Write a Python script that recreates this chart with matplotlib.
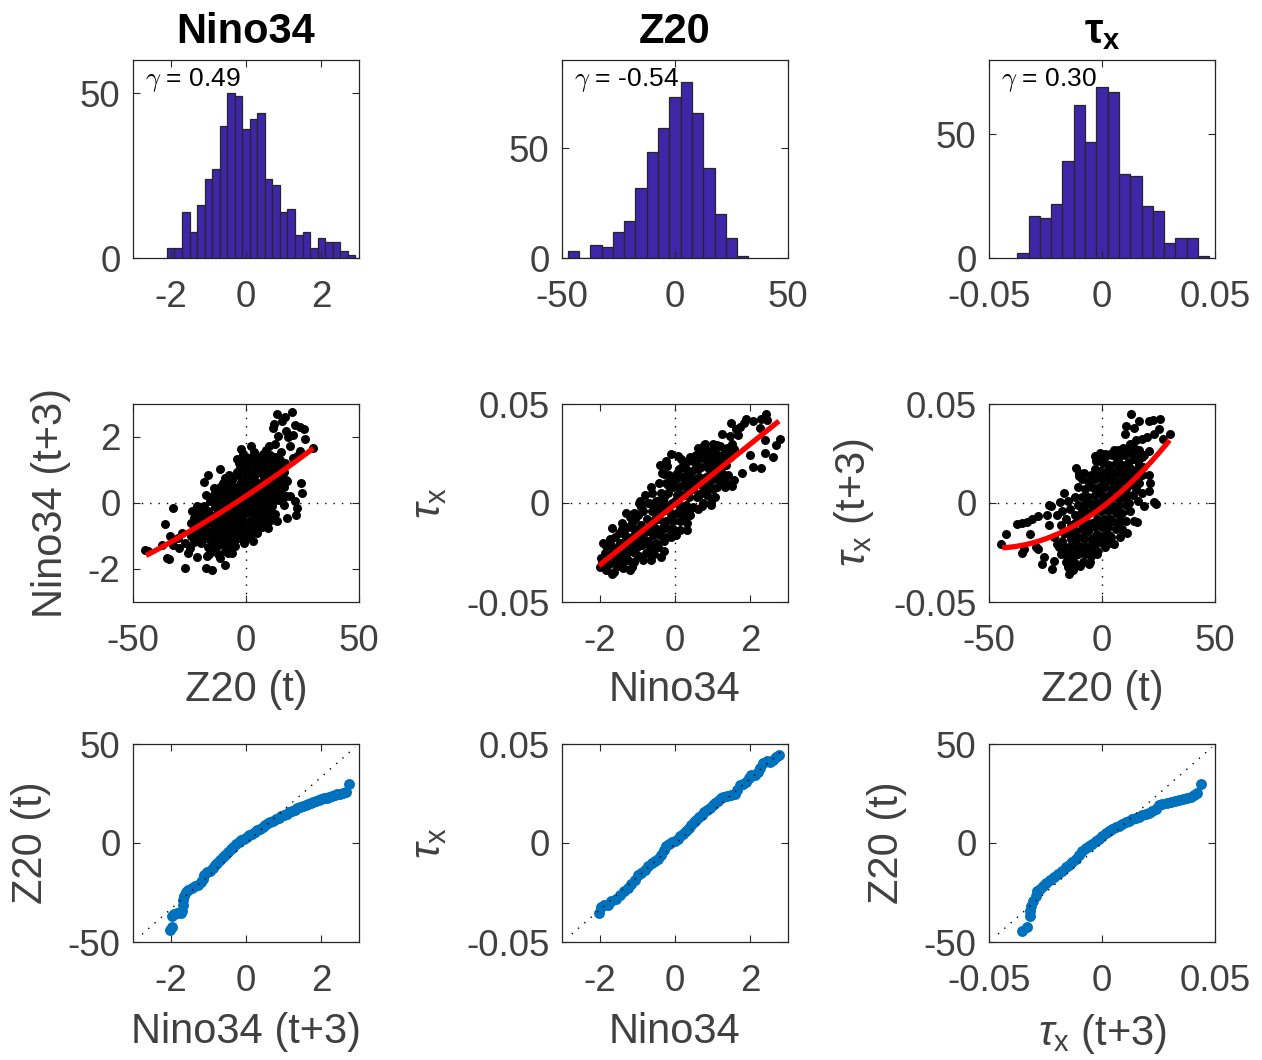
import matplotlib
matplotlib.use('Agg')
import matplotlib.pyplot as plt
import numpy as np

plt.rcParams['font.family'] = ['Liberation Sans', 'DejaVu Sans']
plt.rcParams['axes.unicode_minus'] = False
plt.rcParams['mathtext.fontset'] = 'custom'
plt.rcParams['mathtext.rm'] = 'Liberation Sans'
plt.rcParams['mathtext.it'] = 'Liberation Sans:italic'
plt.rcParams['mathtext.bf'] = 'Liberation Sans:bold'

# ---------------- data ----------------
titles = ['Nino34', 'Z20', r'$\mathbf{\tau}_{\mathbf{x}}$']
skew_labels = ['0.49', '-0.54', '0.30']

nino_centers = [-2.0, -1.8, -1.6, -1.4, -1.2, -1.0, -0.8, -0.6, -0.4, -0.2, 0.0, 0.2, 0.4,
                0.6, 0.8, 1.0, 1.2, 1.4, 1.6, 1.8, 2.0, 2.2, 2.4, 2.6, 2.8]
nino_counts = [3, 3, 14, 8, 16, 24, 27, 40, 50, 49, 39, 42, 44,
               24, 22, 14, 15, 7, 8, 3, 6, 5, 5, 2, 1]
z20_centers = [-45, -40, -35, -30, -25, -20, -15, -10, -5, 0, 5, 10, 15, 20, 25, 30]
z20_counts = [3, 0, 6, 5, 12, 17, 32, 48, 59, 73, 80, 66, 41, 20, 9, 1]
tau_centers = [-0.035, -0.030, -0.025, -0.020, -0.015, -0.010, -0.005, 0.000, 0.005,
               0.010, 0.015, 0.020, 0.025, 0.030, 0.035, 0.040, 0.045]
tau_counts = [2, 17, 16, 22, 39, 62, 47, 69, 67, 34, 33, 21, 19, 6, 8, 8, 1]

# scatter 1: Z20(t) vs Nino34(t+3)
sc1_pts = [
    (13.6, 2.70), (20.2, 2.77), (17.3, 2.60), (15.8, 2.50), (21.7, 2.37), (12.4, 2.40),
    (12.1, 2.26), (17.7, 2.19), (20.9, 2.06), (23.9, 2.29), (25.7, 2.24), (26.1, 1.94),
    (18.7, 1.99), (14.3, 2.02), (12.8, 1.79), (10.3, 1.72), (15.3, 1.55), (19.5, 1.74),
    (23.9, 1.58), (29.8, 1.66), (-2.2, 1.63), (2.1, 1.74), (3.5, 1.55), (-3.8, 1.33),
    (0.0, 1.38), (-11.5, 1.03), (-16.7, 0.85), (-18.6, 0.65), (-32.2, -0.16), (-35.8, -0.65),
    (-44.7, -1.41), (-43.2, -1.46), (-35.1, -1.66), (-33.9, -1.69), (-27.0, -1.97),
    (-17.7, -1.97), (-15.2, -2.02), (-9.3, -1.87), (-11.5, -1.66), (-17.1, -1.61),
    (-21.5, -1.63), (-25.5, -1.51), (-28.5, -0.92), (-29.5, -1.36), (-33.6, -1.01),
    (-37.3, -1.26), (24.2, 0.60), (24.6, 0.31), (21.7, 0.06), (22.4, -0.14), (22.1, -0.37),
    (19.5, 0.21), (18.0, 0.67), (20.9, 1.35), (22.4, 1.43), (-21.8, -0.85), (-24.0, -0.60),
    (-27.0, -1.21), (-24.8, -1.36), (-32.2, -1.26), (-29.9, -1.06), (-7.8, -1.51),
    (-4.9, -1.31), (4.7, -0.90), (9.1, -0.65), (13.6, -0.55), (18.0, -0.45),
    (-24.0, -0.25), (-21.0, -0.30), (-23.0, -0.45), (-19.8, -0.50), (-24.5, -0.62),
    (-21.5, -0.68), (-22.8, -0.85), (-19.5, -0.88), (-24.2, -1.00), (-21.2, -1.05),
    (-23.0, -1.18), (-20.0, -1.22),
    (-17.5, 0.25), (-14.5, 0.20), (-12.5, 0.05), (-16.0, 0.05), (-18.5, -0.10), (-13.8, -0.12),
    (-16.8, -0.25), (-12.2, -0.25), (-15.0, -0.38), (-18.2, -0.42), (-13.0, -0.50),
    (-16.5, -0.58), (-14.2, -0.70), (-18.0, -0.75), (-12.0, -0.78), (-15.8, -0.88),
    (-13.5, -0.98), (-17.8, -1.05), (-11.8, -1.10), (-15.2, -1.15), (-13.0, -1.30),
    (-17.0, -1.32), (-15.0, -1.45), (-12.5, -1.55), (-16.5, -1.55),
    (-10.0, 0.60), (-7.0, 0.55), (-5.0, 0.48), (-9.0, 0.40), (-11.0, 0.30), (-6.2, 0.32),
    (-8.2, 0.20), (-4.5, 0.18), (-10.5, 0.08), (-6.8, 0.05), (-9.2, -0.05), (-5.0, -0.08),
    (-11.0, -0.18), (-7.5, -0.20), (-8.8, -0.35), (-5.5, -0.32), (-10.2, -0.48),
    (-6.8, -0.50), (-4.5, -0.55), (-8.5, -0.65), (-11.0, -0.72), (-5.8, -0.75),
    (-7.5, -0.85), (-9.8, -0.92), (-4.8, -0.95), (-6.5, -1.05), (-8.8, -1.15),
    (-10.8, -1.25), (-5.5, -1.22), (-7.5, -1.35), (-9.5, -1.45), (-6.0, -1.50),
    (-3.0, 1.20), (0.5, 1.15), (3.5, 1.22), (-1.5, 1.02), (2.0, 0.98), (5.0, 1.00),
    (-3.5, 0.85), (0.0, 0.82), (3.5, 0.80), (-2.0, 0.65), (1.5, 0.62), (5.5, 0.60),
    (-3.8, 0.45), (-0.5, 0.45), (3.0, 0.42), (-2.0, 0.25), (1.2, 0.25), (4.8, 0.22),
    (-3.5, 0.05), (-0.2, 0.05), (3.2, 0.05), (-1.8, -0.12), (1.8, -0.15), (5.5, -0.12),
    (-3.2, -0.32), (0.2, -0.30), (3.5, -0.32), (-1.5, -0.50), (2.0, -0.52), (5.2, -0.50),
    (-3.5, -0.68), (0.0, -0.70), (3.5, -0.70), (-1.8, -0.88), (1.8, -0.88), (5.0, -0.85),
    (-3.0, -1.05), (0.5, -1.05), (3.0, -1.15),
    (7.5, 1.50), (10.5, 1.45), (12.8, 1.40), (6.8, 1.30), (9.2, 1.28), (12.0, 1.22),
    (8.0, 1.10), (11.0, 1.08), (13.5, 1.05), (6.5, 0.92), (9.5, 0.90), (12.2, 0.88),
    (8.0, 0.72), (11.0, 0.70), (13.5, 0.68), (6.8, 0.52), (9.8, 0.50), (12.5, 0.48),
    (8.2, 0.32), (11.2, 0.30), (13.8, 0.28), (7.0, 0.12), (10.0, 0.10), (12.8, 0.08),
    (8.5, -0.08), (11.5, -0.10), (6.8, -0.28), (9.8, -0.30), (12.8, -0.32), (8.0, -0.50),
    (11.0, -0.52), (7.0, -0.72), (9.8, -0.75),
    (15.0, 1.30), (17.2, 1.20), (14.8, 1.05), (17.0, 0.95), (15.5, 0.80), (17.8, 0.70),
    (14.5, 0.58), (16.8, 0.48), (15.2, 0.32), (17.5, 0.22), (14.8, 0.08), (16.8, -0.05),
    (-14.0, 0.45), (-9.5, 0.75), (-7.5, 0.85), (-4.0, 0.95), (-1.0, 1.35), (2.5, 1.40),
    (5.8, 1.38), (-13.0, -0.65), (-10.0, -0.30), (-7.0, -0.05), (-3.0, 0.30), (-1.0, -0.30),
    (2.5, -0.05), (4.0, 0.60), (6.5, 0.40), (8.5, 0.15), (4.5, -0.65), (2.5, -0.90),
    (-1.0, -1.20), (-4.0, -0.15), (-6.0, -0.65), (-8.0, -1.00), (-11.5, -0.90),
    (-14.5, -1.05), (-17.5, -0.90), (-20.5, -0.75), (-22.5, -0.20), (0.8, 0.10), (0.5, 0.55),
    (-2.5, -0.80), (2.2, 0.80), (7.2, -0.40), (10.5, -0.20), (11.8, 0.58), (9.0, 1.05),
    (14.0, 0.85), (16.0, 0.10), (-1.2, 1.50), (4.0, 1.45), (9.0, 1.60),
    (-19.0, -0.30), (-16.0, -0.40), (-13.5, 0.30), (-11.5, 0.50), (-8.5, 0.55), (-6.0, 0.70),
    (-2.5, 1.05), (1.5, 1.30), (4.5, 1.20), (6.0, 1.12), (-9.5, -0.20), (-6.5, -0.30),
    (-3.0, -0.15), (-0.5, -0.10), (3.5, -0.15), (6.2, -0.02), (9.5, 0.70), (10.5, 0.35),
    (-12.0, -0.40), (-9.0, -0.80), (-5.5, -1.00), (-3.0, -0.50), (0.5, -0.85), (3.0, -0.50),
    (6.0, -0.62), (-19.0, -1.05), (-21.5, -0.10), (-14.0, -1.30), (-10.0, -1.05), (1.0, 0.40),
]
sc1_fit = [1.073e-4, 0.04546, 0.21]
sc1_fit_range = [-44.2, 29.8]

# scatter 2: Nino34 vs tau_x
sc2_pts = [
    (2.41, 0.0450), (2.28, 0.0425), (1.89, 0.0425), (2.07, 0.0414), (1.83, 0.0402),
    (1.72, 0.0385), (1.63, 0.0373), (1.49, 0.0402), (1.24, 0.0346), (1.45, 0.0339),
    (1.67, 0.0342), (2.25, 0.0377), (2.45, 0.0419), (2.78, 0.0325), (2.69, 0.0294),
    (2.38, 0.0317), (2.60, 0.0231), (2.38, 0.0253), (1.98, 0.0243), (1.56, 0.0274),
    (1.32, 0.0260), (1.11, 0.0291), (0.76, 0.0294), (0.94, 0.0265), (0.74, 0.0240),
    (0.52, 0.0235), (0.41, 0.0231), (2.07, 0.0180), (2.29, 0.0175), (1.78, 0.0151),
    (1.56, 0.0116), (1.32, 0.0082), (1.51, 0.0086), (0.96, 0.0003), (0.71, -0.0017),
    (0.32, -0.0134), (0.12, -0.0134), (-0.11, -0.0171), (-0.28, -0.0243), (-0.37, -0.0274),
    (-0.64, -0.0288), (-0.86, -0.0288), (-1.13, -0.0322), (-1.37, -0.0322), (-1.66, -0.0360),
    (-1.99, -0.0325), (-1.96, -0.0277), (-1.84, -0.0219), (-1.66, -0.0128), (-1.17, -0.0060),
    (-0.92, 0.0009), (-0.73, 0.0000), (-0.24, 0.0214), (-0.11, 0.0248), (0.07, 0.0236),
    (0.25, 0.0205), (-0.20, 0.0188), (-0.28, 0.0146), (-0.11, 0.0120),
    (-1.90, -0.020), (-1.72, -0.018), (-1.58, -0.017), (-1.85, -0.025), (-1.65, -0.024),
    (-1.95, -0.030), (-1.75, -0.031), (-1.56, -0.029), (-1.82, -0.034), (-1.62, -0.035),
    (-1.20, -0.007), (-1.05, -0.008), (-1.40, -0.010), (-1.25, -0.012), (-1.08, -0.013),
    (-1.50, -0.015), (-1.32, -0.016), (-1.15, -0.017), (-1.45, -0.020), (-1.28, -0.021),
    (-1.02, -0.019), (-1.50, -0.025), (-1.35, -0.025), (-1.18, -0.024), (-1.05, -0.025),
    (-1.42, -0.029), (-1.25, -0.029), (-1.10, -0.030), (-1.38, -0.033), (-1.20, -0.034),
    (-0.80, 0.004), (-0.62, 0.005), (-0.95, 0.000), (-0.70, 0.000), (-0.50, 0.001),
    (-0.85, -0.004), (-0.60, -0.004), (-0.98, -0.006), (-0.75, -0.008), (-0.52, -0.008),
    (-0.90, -0.011), (-0.65, -0.012), (-0.48, -0.013), (-0.82, -0.015), (-0.58, -0.016),
    (-0.96, -0.017), (-0.72, -0.019), (-0.50, -0.020), (-0.88, -0.021), (-0.62, -0.023),
    (-0.78, -0.025), (-0.55, -0.026),
    (-0.35, 0.015), (-0.15, 0.014), (0.02, 0.012), (-0.42, 0.010), (-0.25, 0.010),
    (-0.05, 0.008), (-0.38, 0.005), (-0.18, 0.005), (0.05, 0.004), (-0.44, 0.001),
    (-0.28, 0.000), (-0.08, 0.000), (-0.35, -0.004), (-0.15, -0.004), (0.05, -0.005),
    (-0.42, -0.008), (-0.25, -0.009), (-0.05, -0.009), (-0.32, -0.013), (-0.12, -0.013),
    (0.02, -0.016), (-0.40, -0.016), (-0.22, -0.017),
    (0.15, 0.022), (0.35, 0.021), (0.52, 0.020), (0.10, 0.017), (0.28, 0.017), (0.45, 0.016),
    (0.18, 0.013), (0.38, 0.012), (0.56, 0.012), (0.10, 0.008), (0.28, 0.008), (0.48, 0.007),
    (0.18, 0.004), (0.38, 0.003), (0.58, 0.003), (0.10, -0.001), (0.30, -0.001),
    (0.48, -0.002), (0.20, -0.005), (0.40, -0.006), (0.12, -0.009), (0.32, -0.010),
    (0.68, 0.027), (0.88, 0.026), (1.05, 0.026), (0.62, 0.022), (0.80, 0.022), (0.98, 0.021),
    (0.70, 0.018), (0.90, 0.017), (1.10, 0.017), (0.64, 0.013), (0.82, 0.013), (1.02, 0.012),
    (0.72, 0.009), (0.92, 0.008), (1.12, 0.008), (0.65, 0.004), (0.85, 0.004), (1.05, 0.003),
    (0.75, 0.000), (0.95, -0.001),
    (1.20, 0.029), (1.38, 0.028), (1.25, 0.024), (1.45, 0.023), (1.18, 0.020), (1.35, 0.019),
    (1.25, 0.015), (1.42, 0.014), (1.20, 0.011), (1.35, 0.010),
    (-1.70, -0.021), (-1.48, -0.022), (-1.30, -0.018), (-1.12, -0.020), (-1.40, -0.013),
    (-1.15, -0.010), (-0.90, -0.002), (-0.70, -0.014), (-0.85, -0.018), (-0.68, -0.021),
    (-0.45, -0.004), (-0.30, 0.003), (-0.10, 0.011), (-0.20, -0.001), (0.00, 0.001),
    (-0.10, -0.007), (-0.30, -0.011), (0.22, 0.009), (0.40, 0.015), (0.20, 0.019),
    (0.50, 0.011), (0.30, 0.004), (0.55, 0.024), (0.75, 0.024), (0.95, 0.024), (0.75, 0.012),
    (0.90, 0.011), (0.70, 0.005), (1.15, 0.023), (1.30, 0.022), (1.10, 0.013), (0.40, -0.003),
    (0.25, -0.008), (-0.55, -0.002), (-1.00, -0.022), (-1.55, -0.032), (-1.30, -0.027),
    (-0.95, -0.027), (1.50, 0.030), (1.00, 0.030),
    (-1.60, -0.027), (-1.80, -0.028), (-1.45, -0.032), (-0.92, -0.014), (-0.58, -0.010),
    (-0.40, -0.002), (-0.18, 0.009), (0.05, 0.015), (0.25, 0.013), (0.42, 0.008),
    (0.60, 0.017), (0.85, 0.019), (1.05, 0.019), (0.80, 0.007), (1.00, 0.007),
    (0.60, -0.003), (0.15, -0.004), (-0.05, -0.013), (-0.30, -0.019), (-0.70, -0.025),
    (-0.45, -0.022), (1.25, 0.019), (1.40, 0.026), (1.30, 0.013), (-1.10, -0.005),
    (-1.30, -0.005), (-0.65, 0.008), (-0.40, 0.019), (0.60, 0.028), (0.80, 0.030),
]
sc2_fit = [0.0, 0.01529, -0.0008]
sc2_fit_range = [-2.02, 2.76]

# scatter 3: Z20(t) vs tau_x(t+3)
sc3_pts = [
    (12.8, 0.0449), (10.7, 0.0390), (14.0, 0.0377), (16.2, 0.0414), (21.0, 0.0414),
    (22.5, 0.0418), (25.7, 0.0425), (25.0, 0.0373), (22.8, 0.0351), (19.9, 0.0334),
    (17.6, 0.0325), (15.1, 0.0317), (13.2, 0.0294), (10.0, 0.0351), (29.9, 0.0346),
    (27.2, 0.0325), (20.6, 0.0265), (18.4, 0.0240), (21.0, 0.0142), (21.3, 0.0103),
    (21.0, 0.0060), (22.8, 0.0003), (24.0, -0.0003), (18.4, -0.0017), (15.4, -0.0094),
    (11.0, -0.0151), (2.9, -0.0202), (-2.2, -0.0257), (-5.9, -0.0308), (-9.6, -0.0317),
    (-14.7, -0.0360), (-15.1, -0.0325), (-22.1, -0.0334), (-21.3, -0.0291), (-26.5, -0.0308),
    (-25.7, -0.0274), (-35.3, -0.0253), (-34.6, -0.0231), (-42.6, -0.0158), (-44.6, -0.0205),
    (-37.5, -0.0108), (-35.3, -0.0103), (-33.1, -0.0094), (-30.9, -0.0082), (-28.1, -0.0068),
    (-31.9, -0.0158), (-29.4, -0.0223), (-28.4, -0.0231), (-23.5, -0.0009), (-22.5, -0.0017),
    (-18.4, 0.0003), (-16.6, 0.0051), (-11.3, 0.0175), (-10.3, 0.0137), (-2.9, 0.0235),
    (-1.0, 0.0253), (1.5, 0.0248), (5.9, 0.0243), (-0.7, 0.0214), (-24.3, -0.0060),
    (-23.5, -0.0111), (-21.3, -0.0171), (-19.9, -0.0205), (-17.6, -0.0248), (-14.3, -0.0274),
    (-11.0, -0.0257), (-6.6, -0.0240), (-3.7, -0.0219), (-0.7, -0.0188), (5.1, -0.0205),
    (8.1, -0.0171), (14.0, -0.0089),
    (-17.5, -0.004), (-14.0, -0.003), (-12.0, -0.006), (-16.0, -0.008), (-18.0, -0.011),
    (-13.5, -0.011), (-15.8, -0.015), (-11.8, -0.014), (-17.8, -0.019), (-13.8, -0.018),
    (-16.2, -0.022), (-12.0, -0.022), (-18.0, -0.026), (-14.0, -0.026), (-16.0, -0.030),
    (-12.5, -0.030),
    (-9.0, 0.012), (-6.0, 0.011), (-10.5, 0.008), (-7.5, 0.007), (-4.5, 0.008), (-9.0, 0.003),
    (-6.0, 0.003), (-10.8, -0.001), (-7.8, -0.001), (-4.8, -0.001), (-9.2, -0.005),
    (-6.2, -0.005), (-10.5, -0.009), (-7.5, -0.009), (-4.5, -0.010), (-9.0, -0.013),
    (-6.0, -0.014), (-10.8, -0.017), (-7.8, -0.018), (-4.8, -0.018), (-9.2, -0.022),
    (-6.2, -0.022), (-10.5, -0.026), (-7.5, -0.026), (-4.8, -0.027),
    (-2.5, 0.021), (0.5, 0.020), (3.0, 0.019), (-1.0, 0.016), (2.0, 0.016), (-3.0, 0.012),
    (0.0, 0.012), (3.2, 0.012), (-1.5, 0.008), (1.5, 0.008), (-3.2, 0.004), (0.0, 0.004),
    (3.0, 0.004), (-1.8, 0.000), (1.2, 0.000), (-3.5, -0.004), (-0.5, -0.004), (2.5, -0.004),
    (-2.0, -0.008), (1.0, -0.008), (3.5, -0.008), (-3.2, -0.012), (-0.2, -0.012),
    (2.8, -0.012), (-1.8, -0.016), (1.2, -0.016), (-3.0, -0.020), (0.0, -0.020), (2.5, -0.019),
    (4.5, 0.024), (7.5, 0.023), (10.0, 0.024), (6.0, 0.020), (9.0, 0.019), (4.5, 0.016),
    (7.5, 0.015), (10.5, 0.015), (6.0, 0.011), (9.0, 0.011), (4.5, 0.007), (7.5, 0.007),
    (10.5, 0.007), (6.0, 0.003), (9.0, 0.003), (4.5, -0.001), (7.5, -0.001), (10.5, -0.001),
    (6.0, -0.005), (9.0, -0.005), (4.5, -0.009), (7.5, -0.009), (10.5, -0.009),
    (6.0, -0.013), (9.0, -0.013),
    (12.0, 0.026), (15.0, 0.025), (17.5, 0.023), (13.5, 0.022), (16.5, 0.019), (12.0, 0.018),
    (15.0, 0.016), (17.8, 0.014), (13.5, 0.013), (16.5, 0.010), (12.0, 0.009), (15.0, 0.007),
    (17.5, 0.005), (13.5, 0.004), (16.0, 0.001), (12.0, 0.000),
    (-8.0, 0.015), (-3.0, 0.017), (1.5, 0.023), (5.5, 0.027), (9.5, 0.028), (12.5, 0.030),
    (-5.5, -0.030), (-8.5, -0.030), (-2.0, -0.024), (1.5, -0.022), (4.0, -0.017),
    (-12.0, 0.003), (-15.0, 0.001), (-1.5, 0.014), (1.0, 0.010), (-0.5, 0.000), (2.0, 0.002),
    (-2.5, -0.002), (-1.0, -0.010), (1.8, -0.012), (7.5, -0.005), (8.0, 0.003), (6.0, 0.007),
    (8.2, 0.018), (11.5, 0.020), (11.0, 0.004), (13.0, 0.017), (16.0, 0.021), (14.5, 0.011),
    (18.0, 0.018), (-7.0, -0.012), (-8.5, -0.017), (-5.5, -0.024), (-11.5, -0.020),
    (-14.5, -0.014), (-15.5, -0.027), (-13.0, -0.034), (-19.0, -0.022), (-20.0, -0.006),
    (-6.5, 0.000),
    (-10.0, 0.015), (-5.0, 0.014), (-12.0, -0.010), (-8.5, -0.003), (-3.5, 0.000),
    (-2.0, 0.006), (2.0, 0.013), (4.0, 0.011), (5.5, 0.015), (7.0, 0.019), (9.5, 0.015),
    (11.5, 0.012), (10.0, 0.003), (12.5, -0.004), (5.5, -0.002), (3.0, -0.016),
    (6.5, -0.010), (8.5, -0.009), (-2.5, -0.016), (-4.0, -0.023), (-9.5, -0.009),
    (-12.5, -0.017), (-17.0, -0.015), (-14.5, -0.022), (-1.0, 0.024), (3.5, 0.025),
    (7.0, 0.027), (14.0, 0.028), (16.5, 0.027), (-7.5, -0.022),
]
sc3_fit = [9.07e-6, 0.000863, -0.0022]
sc3_fit_range = [-44.1, 29.9]

# QQ plots (sorted quantile pairs)
qq1_pts = [
    (-2.02, -43.8), (-1.97, -42.6), (-1.97, -37.0), (-1.90, -35.9), (-1.82, -35.4),
    (-1.73, -35.5), (-1.69, -34.2), (-1.68, -31.5), (-1.68, -28.6), (-1.65, -26.6),
    (-1.59, -24.8), (-1.53, -23.6), (-1.44, -22.7), (-1.35, -21.9), (-1.27, -21.1),
    (-1.19, -19.7), (-1.15, -18.0), (-1.12, -16.0), (-1.04, -14.8), (-0.96, -14.0),
    (-0.88, -12.6), (-0.82, -11.3), (-0.76, -10.1), (-0.69, -8.8), (-0.62, -7.2),
    (-0.55, -5.9), (-0.48, -4.5), (-0.41, -3.2), (-0.34, -1.9), (-0.27, -0.5),
    (-0.19, 0.5), (-0.12, 1.3), (-0.05, 2.2), (0.02, 3.0), (0.09, 3.9), (0.16, 4.7),
    (0.23, 5.6), (0.30, 6.4), (0.37, 7.2), (0.44, 8.1), (0.51, 8.9), (0.58, 9.9),
    (0.65, 10.6), (0.73, 11.3), (0.80, 12.1), (0.87, 12.8), (0.94, 13.5), (1.01, 14.1),
    (1.08, 14.8), (1.15, 15.5), (1.22, 16.2), (1.29, 16.8), (1.36, 17.5), (1.43, 18.0),
    (1.50, 18.5), (1.58, 19.0), (1.65, 19.7), (1.72, 20.2), (1.79, 20.7), (1.86, 21.2),
    (1.93, 21.7), (2.00, 22.2), (2.07, 22.6), (2.14, 22.9), (2.21, 23.2), (2.28, 23.7),
    (2.35, 24.2), (2.42, 24.6), (2.50, 24.9), (2.57, 25.3), (2.65, 25.8), (2.74, 29.8),
]
qq2_pts = [
    (-2.02, -0.0354), (-1.97, -0.0325), (-1.88, -0.0315), (-1.78, -0.0315), (-1.69, -0.0295),
    (-1.57, -0.0281), (-1.46, -0.0261), (-1.35, -0.0241), (-1.24, -0.0227), (-1.16, -0.0207),
    (-1.07, -0.0185), (-0.98, -0.0163), (-0.89, -0.0152), (-0.80, -0.0135), (-0.71, -0.0118),
    (-0.62, -0.0101), (-0.53, -0.0089), (-0.44, -0.0079), (-0.37, -0.0059), (-0.30, -0.0034),
    (-0.23, -0.0017), (-0.15, -0.0005), (-0.07, 0.0005), (0.00, 0.0012), (0.07, 0.0022),
    (0.14, 0.0034), (0.21, 0.0045), (0.28, 0.0059), (0.36, 0.0074), (0.43, 0.0089),
    (0.50, 0.0104), (0.57, 0.0118), (0.64, 0.0131), (0.71, 0.0143), (0.78, 0.0155),
    (0.85, 0.0167), (0.92, 0.0177), (1.00, 0.0190), (1.07, 0.0202), (1.14, 0.0214),
    (1.21, 0.0227), (1.28, 0.0234), (1.37, 0.0239), (1.48, 0.0244), (1.58, 0.0248),
    (1.65, 0.0269), (1.72, 0.0295), (1.80, 0.0298), (1.89, 0.0308), (1.96, 0.0328),
    (2.03, 0.0342), (2.12, 0.0345), (2.20, 0.0359), (2.26, 0.0379), (2.34, 0.0404),
    (2.43, 0.0413), (2.52, 0.0409), (2.60, 0.0421), (2.69, 0.0433), (2.76, 0.0446),
]
qq3_pts = [
    (-0.0353, -44.3), (-0.0334, -42.6), (-0.0319, -37.0), (-0.0319, -34.5), (-0.0313, -32.0),
    (-0.0304, -29.5), (-0.0294, -26.9), (-0.0287, -24.4), (-0.0275, -23.1), (-0.0260, -21.9),
    (-0.0246, -20.4), (-0.0231, -18.9), (-0.0213, -17.3), (-0.0196, -15.7), (-0.0178, -14.0),
    (-0.0160, -12.3), (-0.0146, -10.9), (-0.0131, -9.6), (-0.0116, -7.9), (-0.0101, -6.2),
    (-0.0087, -4.2), (-0.0072, -2.5), (-0.0057, -1.5), (-0.0043, -0.5), (-0.0028, 0.8),
    (-0.0013, 2.2), (0.0001, 3.5), (0.0016, 4.9), (0.0031, 6.1), (0.0046, 7.1),
    (0.0060, 7.9), (0.0075, 8.8), (0.0090, 9.6), (0.0104, 10.4), (0.0119, 11.3),
    (0.0134, 12.0), (0.0149, 12.6), (0.0163, 13.3), (0.0178, 14.0), (0.0193, 14.7),
    (0.0207, 15.3), (0.0222, 16.3), (0.0237, 17.3), (0.0251, 19.0), (0.0265, 19.7),
    (0.0287, 20.4), (0.0304, 20.7), (0.0322, 21.0), (0.0340, 21.7), (0.0357, 22.1),
    (0.0375, 22.7), (0.0393, 23.2), (0.0407, 24.1), (0.0419, 25.3), (0.0437, 29.8),
]
qq1_ref = [(-2.76, -46.1), (2.90, 48.4)]
qq2_ref = [(-2.74, -0.046), (2.93, 0.048)]
qq3_ref = [(-0.046, -46.0), (0.0487, 48.4)]

# ---------------- styling ----------------
HIST_COLOR = '#3E26A8'
QQ_COLOR = '#0072BD'
TXT = '#404040'
AXC = '#262626'
TICK_FS = 26.5
LAB_FS = 30
DOT = (0, (1, 5))

W, H = 1262, 1060
fig = plt.figure(figsize=(W / 100, H / 100), dpi=100)
col_left = [133, 562, 989]
ax_w = 226
row_top = [60, 404, 744]
ax_h = 198

def make_ax(r, c):
    l = col_left[c] / W
    b = 1 - (row_top[r] + ax_h) / H
    ax = fig.add_axes([l, b, ax_w / W, ax_h / H])
    for s in ax.spines.values():
        s.set_color(AXC)
        s.set_linewidth(0.9)
    ax.tick_params(direction='in', length=5, width=0.8, top=True, right=True,
                   labelsize=TICK_FS, labelcolor=TXT, color=AXC)
    ax.tick_params(axis='x', pad=16)
    ax.tick_params(axis='y', pad=9)
    return ax

lim_nino = (-3, 3)
lim_z20 = (-50, 50)
lim_tau = (-0.05, 0.05)
ticks_nino = [-2, 0, 2]
ticks_z20 = [-50, 0, 50]
ticks_tau = [-0.05, 0, 0.05]
tick_lab_nino = ['-2', '0', '2']
tick_lab_z20 = ['-50', '0', '50']
tick_lab_tau = ['-0.05', '0', '0.05']

def set_x(ax, lim, ticks, labs):
    ax.set_xlim(lim)
    ax.set_xticks(ticks)
    ax.set_xticklabels(labs)

def set_y(ax, lim, ticks, labs):
    ax.set_ylim(lim)
    ax.set_yticks(ticks)
    ax.set_yticklabels(labs)

# ---- row 1: histograms ----
hists = [
    (nino_centers, nino_counts, 0.2, lim_nino, ticks_nino, tick_lab_nino, 60),
    (z20_centers, z20_counts, 5, lim_z20, ticks_z20, tick_lab_z20, 90),
    (tau_centers, tau_counts, 0.005, lim_tau, ticks_tau, tick_lab_tau, 80),
]
for c, (cen, cnt, bw, lim, tk, tl, ymax) in enumerate(hists):
    ax = make_ax(0, c)
    ax.bar(cen, cnt, width=bw, color=HIST_COLOR, edgecolor='#262626', linewidth=0.9)
    set_x(ax, lim, tk, tl)
    set_y(ax, (0, ymax), [0, 50], ['0', '50'])
    ax.set_title(titles[c], fontsize=LAB_FS, fontweight='bold', color='black', pad=12)
    ax.text(0.055, 0.87, r'$\gamma$ = ' + skew_labels[c], transform=ax.transAxes,
            fontsize=19, color='black', ha='left', va='baseline', math_fontfamily='cm')

# ---- row 2: scatter plots ----
scatters = [
    (sc1_pts, sc1_fit, sc1_fit_range, (lim_z20, ticks_z20, tick_lab_z20),
     (lim_nino, ticks_nino, tick_lab_nino), 'Z20 (t)', 'Nino34 (t+3)'),
    (sc2_pts, sc2_fit, sc2_fit_range, (lim_nino, ticks_nino, tick_lab_nino),
     (lim_tau, ticks_tau, tick_lab_tau), 'Nino34', r'$\tau_{\mathrm{x}}$'),
    (sc3_pts, sc3_fit, sc3_fit_range, (lim_z20, ticks_z20, tick_lab_z20),
     (lim_tau, ticks_tau, tick_lab_tau), 'Z20 (t)', r'$\tau_{\mathrm{x}}$ (t+3)'),
]
for c, (pts, fit, frange, xs, ys, xl, yl) in enumerate(scatters):
    ax = make_ax(1, c)
    p = np.array(pts)
    ax.axhline(0, color='k', lw=1.0, ls=DOT, zorder=1)
    ax.axvline(0, color='k', lw=1.0, ls=DOT, zorder=1)
    ax.scatter(p[:, 0], p[:, 1], s=42, c='k', linewidths=0, zorder=2)
    xx = np.linspace(frange[0], frange[1], 100)
    ax.plot(xx, np.polyval(fit, xx), color='#FF0000', lw=3.8, zorder=3,
            solid_capstyle='butt')
    set_x(ax, *xs)
    set_y(ax, *ys)
    ax.set_xlabel(xl, fontsize=LAB_FS, color=TXT, labelpad=8)
    ax.set_ylabel(yl, fontsize=LAB_FS, color=TXT, labelpad=12)

# ---- row 3: QQ plots ----
qqs = [
    (qq1_pts, qq1_ref, (lim_nino, ticks_nino, tick_lab_nino),
     (lim_z20, ticks_z20, tick_lab_z20), 'Nino34 (t+3)', 'Z20 (t)'),
    (qq2_pts, qq2_ref, (lim_nino, ticks_nino, tick_lab_nino),
     (lim_tau, ticks_tau, tick_lab_tau), 'Nino34', r'$\tau_{\mathrm{x}}$'),
    (qq3_pts, qq3_ref, (lim_tau, ticks_tau, tick_lab_tau),
     (lim_z20, ticks_z20, tick_lab_z20), r'$\tau_{\mathrm{x}}$ (t+3)', 'Z20 (t)'),
]
for c, (pts, ref, xs, ys, xl, yl) in enumerate(qqs):
    ax = make_ax(2, c)
    p = np.array(pts)
    r = np.array(ref)
    ax.scatter(p[:, 0], p[:, 1], s=62, c=QQ_COLOR, linewidths=0, zorder=2)
    ax.plot(r[:, 0], r[:, 1], color='k', lw=1.0, ls=DOT, zorder=3)
    set_x(ax, *xs)
    set_y(ax, *ys)
    ax.set_xlabel(xl, fontsize=LAB_FS, color=TXT, labelpad=9)
    ax.set_ylabel(yl, fontsize=LAB_FS, color=TXT, labelpad=12)

fig.savefig('out.png', dpi=100)
